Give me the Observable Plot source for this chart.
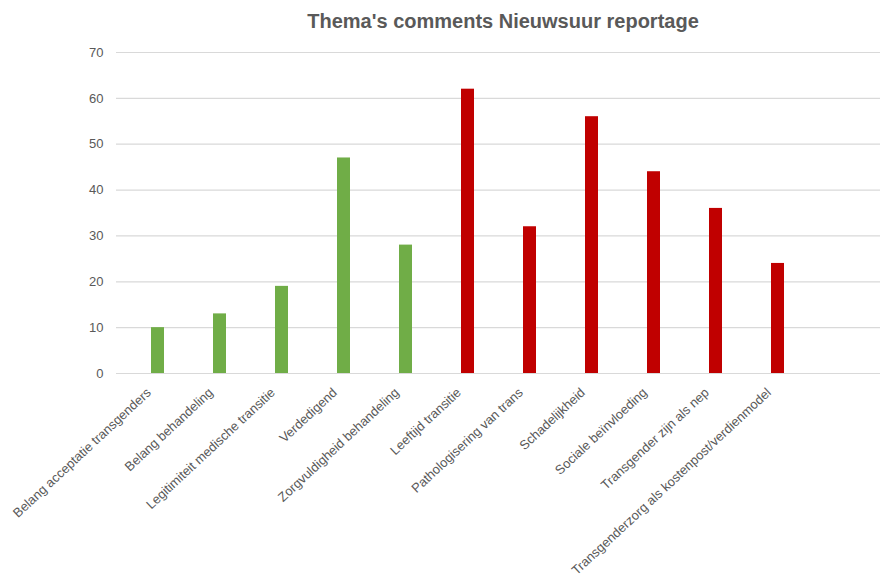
<!DOCTYPE html>
<html>
<head>
<meta charset="utf-8">
<script src="https://cdn.jsdelivr.net/npm/d3@7"></script>
<script src="https://cdn.jsdelivr.net/npm/@observablehq/plot@0.6"></script>
<style>
  body { margin: 0; background: #fff; }
  #title { height: 40px; line-height: 42px; text-align: center; font-family: "Liberation Sans", Arial, sans-serif; font-weight: bold; font-size: 20px; color: #595959; padding-left: 118px; box-sizing: border-box; width: 888px; }
</style>
</head>
<body>
<div id="title">Thema's comments Nieuwsuur reportage</div>
<div id="chart"></div>
<script>
const categories = [
  "Belang acceptatie transgenders",
  "Belang behandeling",
  "Legitimiteit medische transitie",
  "Verdedigend",
  "Zorgvuldigheid behandeling",
  "Leeftijd transitie",
  "Pathologisering van trans",
  "Schadelijkheid",
  "Sociale beïnvloeding",
  "Transgender zijn als nep",
  "Transgenderzorg als kostenpost/verdienmodel"
];
const values = [10, 13, 19, 47, 28, 62, 32, 56, 44, 36, 24];
const groups = ["pro", "pro", "pro", "pro", "pro", "contra", "contra", "contra", "contra", "contra", "contra"];
const yTicks = [0, 10, 20, 30, 40, 50, 60, 70];

const data = categories.map((c, i) => ({category: c, value: values[i], group: groups[i]}));

const chart = Plot.plot({
  width: 888,
  height: 538,
  marginTop: 12,
  marginBottom: 205,
  marginLeft: 116,
  marginRight: 8,
  style: {fontFamily: "'Liberation Sans', Arial, sans-serif", fontSize: "12px", color: "#595959", background: "#fff"},
  x: {domain: categories, range: [125, 810], paddingInner: 0.79, paddingOuter: 0.395, label: null},
  y: {domain: [0, 70], ticks: yTicks, label: null},
  color: {domain: ["pro", "contra"], range: ["#70AD47", "#C00000"]},
  marks: [
    Plot.ruleY(yTicks, {stroke: "#d9d9d9", strokeWidth: 1.2}),
    Plot.barY(data, {x: "category", y: "value", fill: "group"}),
    Plot.axisY({ticks: yTicks, tickSize: 0, tickPadding: 13, fill: "#595959", fontSize: 13, label: null}),
    Plot.axisX({tickSize: 0, tickRotate: -43, tickPadding: 17, dx: -9, fill: "#595959", fontSize: 13, label: null})
  ]
});
document.getElementById("chart").appendChild(chart);
</script>
</body>
</html>
